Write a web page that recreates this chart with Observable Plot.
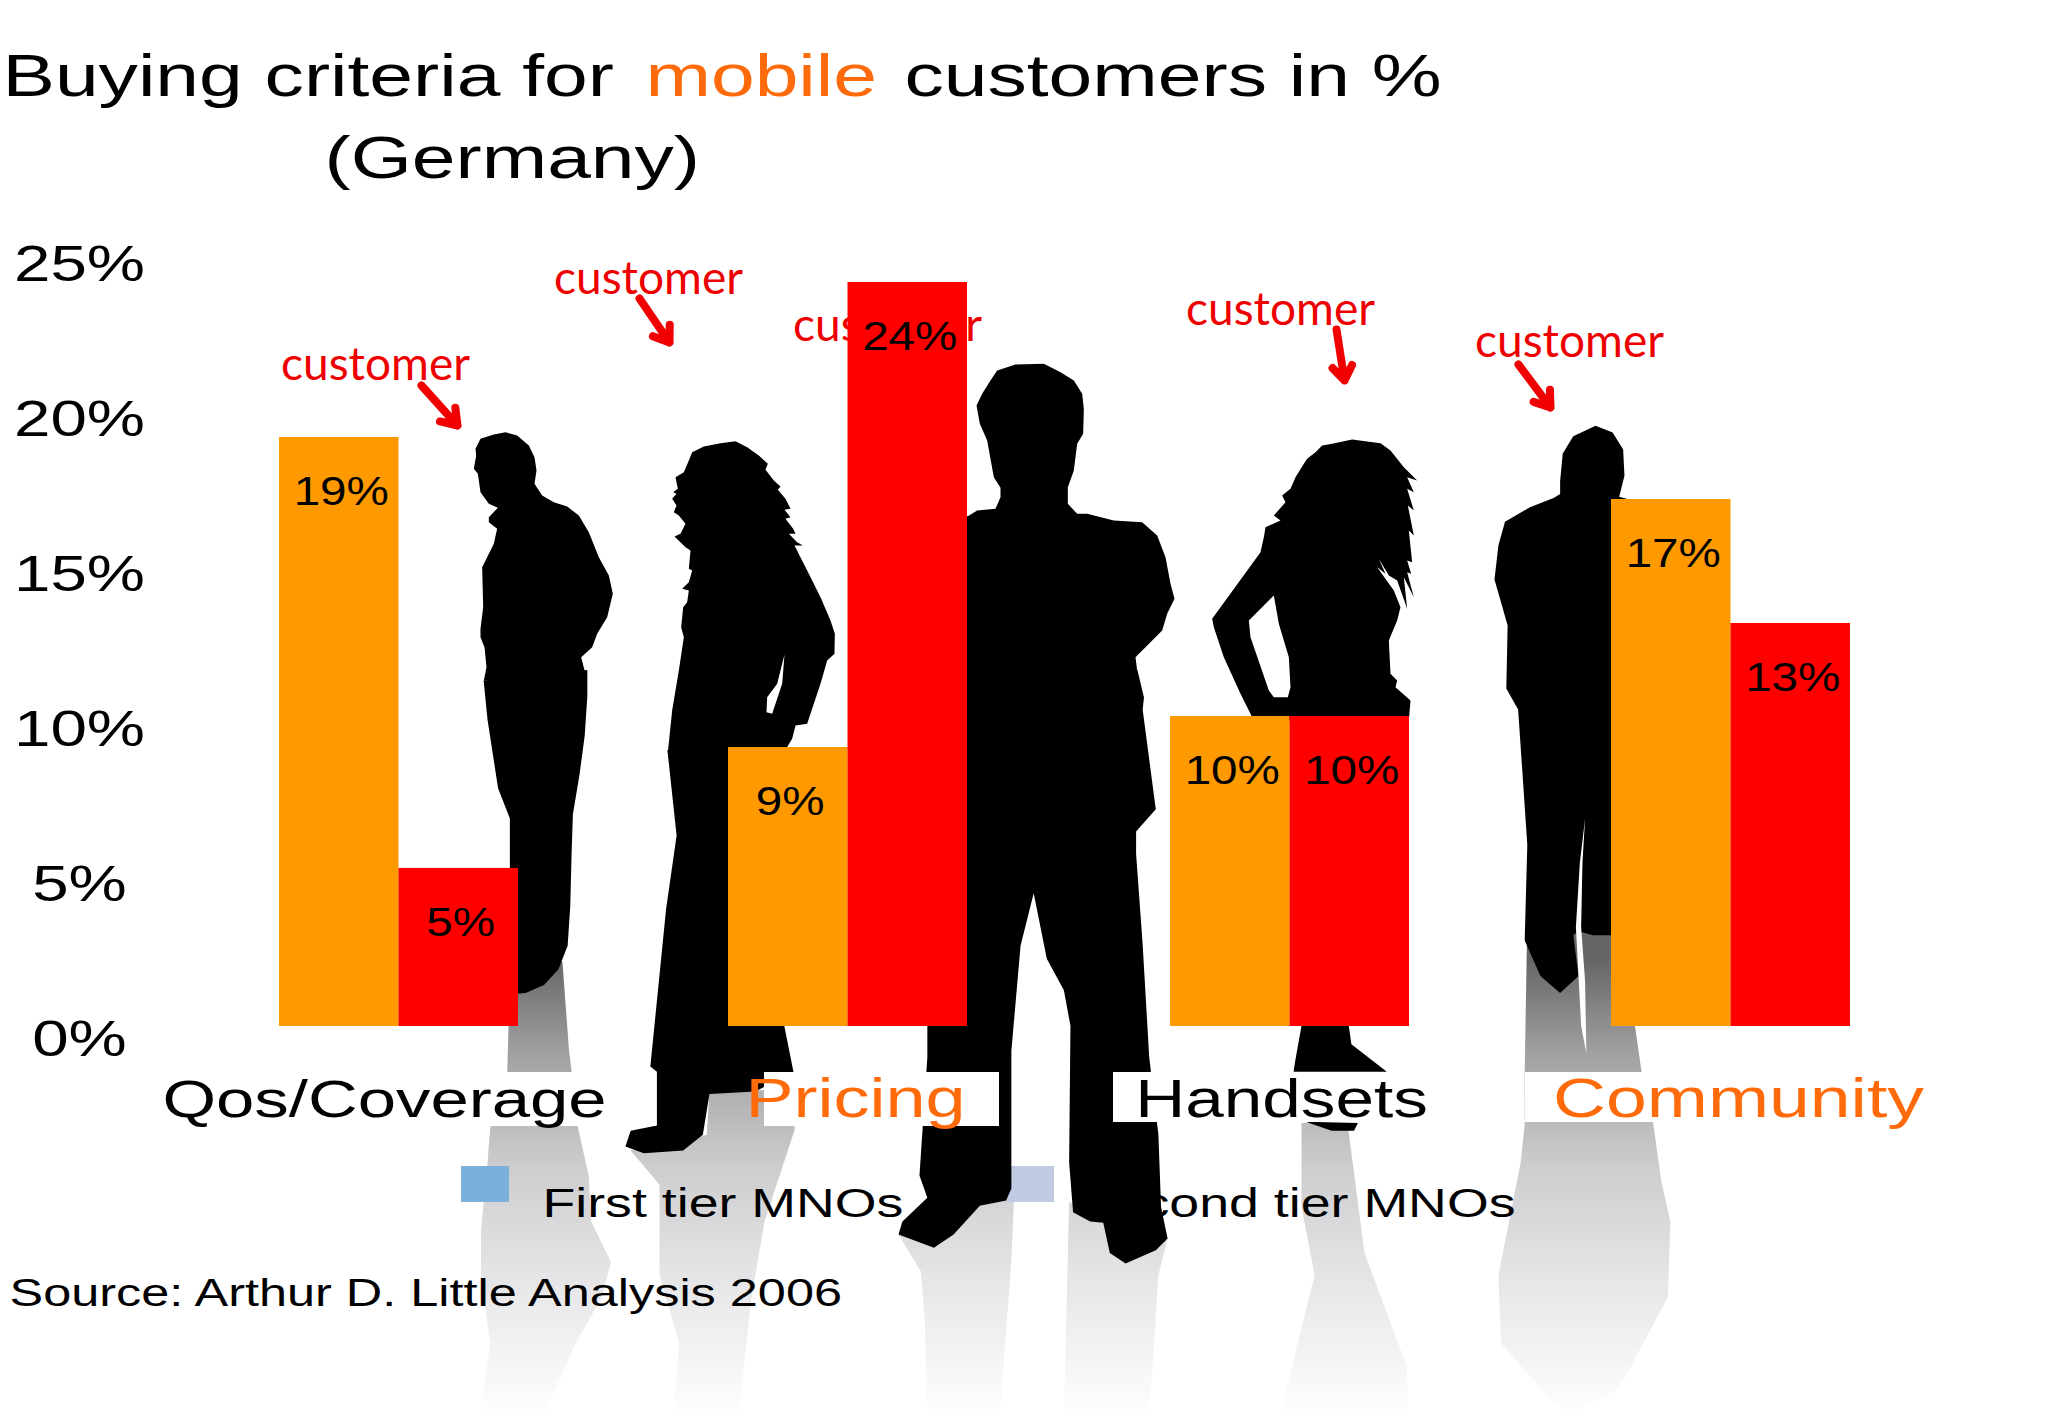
<!DOCTYPE html>
<html>
<head>
<meta charset="utf-8">
<script src="https://cdn.jsdelivr.net/npm/d3@7"></script>
<script src="https://cdn.jsdelivr.net/npm/@observablehq/plot@0.6"></script>
<style>html,body{margin:0;padding:0;background:#fff;overflow:hidden}svg{display:block}</style>
</head>
<body>
<div id="chart"></div>
<script>
// ---- data ----
const categories = ["Qos/Coverage", "Pricing", "Handsets", "Community"];
const firstTier = [19, 9, 10, 17];
const secondTier = [5.1, 24, 10, 13];
const yTicks = [0, 5, 10, 15, 20, 25];
const categoryColors = ["#000000", "#FF6A0A", "#000000", "#FF6A0A"];
const titleParts = [
  {text: "Buying criteria for", x: 2, y: 95, fill: "#000"},
  {text: "mobile", x: 645, y: 95, fill: "#FF6A0A"},
  {text: "customers in %", x: 904, y: 95, fill: "#000"},
  {text: "(Germany)", x: 324, y: 177, fill: "#000"}
];
const legendLabels = [
  {text: "First tier MNOs", x: 542, color: "#7AB0DC", sx: 461},
  {text: "Second tier MNOs", x: 1515, color: "#C0CAE2", sx: 1006}
];
const sourceText = "Source: Arthur D. Little Analysis 2006";
const calloutWord = "customer";
const callouts = [[375, 378], [648, 292], [887, 339], [1280, 323], [1569, 355]];
const arrows = [
  [421, 385, 457, 425], [639, 298, 669, 342], [1336, 329, 1344, 380], [1518, 364, 1550, 407]
];
const labelCenters = [384, 855, 1281, 1738];
const labelSizes = [52.6, 55, 52.9, 56];
const labelPatches = [
  [160, 656, 1072, 1126], [764, 999, 1072, 1126], [1113, 1440, 1072, 1122], [1525, 1935, 1072, 1122]
];

const S = 2048 / 1560;
const crop = (x0, y0, pts) => pts.map(([a, b]) => [(x0 + a / 3) / S, (y0 + b / 3) / S]);

const man1Top = crop(460, 420, [[45,85],[60,55],[100,42],[135,35],[170,45],[205,75],[222,110],[228,150],[222,190],[245,225],[280,245],[320,258],[355,285],[385,335],[415,410],[445,465],[457,520],[440,590],[410,640],[395,680],[362,710],[380,780],[70,780],[78,740],[72,680],[60,650],[60,625],[68,560],[65,440],[100,370],[110,325],[85,305],[85,290],[112,262],[85,250],[60,215],[52,160],[40,145],[47,105]]);
const man1Legs = [[447,510],[447,530],[445,560],[441,590],[436,620],[435,650],[434,690],[432,720],[425,738],[414,750],[400,756],[388,757],[388,664],[388,623],[379,600],[371,548],[368,518]];

const woman1Top = crop(660, 430, [[95,65],[130,48],[180,38],[225,32],[260,50],[295,75],[322,100],[315,118],[340,150],[360,168],[352,178],[375,205],[390,235],[372,238],[390,260],[375,265],[398,295],[405,310],[385,310],[410,335],[427,345],[402,345],[440,420],[480,500],[510,570],[523,610],[522,670],[500,690],[480,760],[440,880],[405,885],[395,925],[370,966],[22,966],[35,840],[55,720],[70,620],[62,590],[68,530],[80,515],[85,480],[65,475],[85,455],[95,420],[85,415],[90,360],[75,350],[42,318],[60,310],[75,280],[55,255],[40,245],[48,225],[35,205],[48,190],[38,185],[52,175],[45,140],[70,125],[85,90]]);
const woman1Gap = crop(660, 430, [[372,672],[350,760],[320,800],[318,845],[335,850],[365,760]]);
const woman1Legs = [[590,572],[640,575],[640,780],[597,781],[604,816],[575,831],[540,833],[535,864],[520,876],[490,878],[476,873],[480,861],[500,857],[500,816],[495,812],[507,692],[515,636],[508,571]];

const man2Top = crop(960, 350, [[48,165],[65,130],[90,90],[110,60],[165,42],[250,40],[300,65],[340,90],[365,130],[370,175],[368,250],[350,280],[340,360],[322,410],[322,460],[350,490],[380,490],[460,510],[545,515],[590,555],[615,620],[630,700],[642,745],[620,790],[605,840],[555,890],[525,920],[530,960],[0,960],[0,497],[22,497],[50,480],[105,475],[120,440],[120,412],[100,380],[80,270],[58,220]]);
const man2Legs = [[866,510],[871,531],[870,540],[880,616],[865,633],[865,650],[870,719],[875,805],[882,864],[884,919],[889,943],[880,952],[857,962],[845,954],[840,931],[830,930],[817,923],[814,885],[815,781],[810,754],[797,730],[787,680],[777,720],[770,800],[770,905],[766,914],[746,918],[726,940],[711,950],[684,940],[687,930],[706,912],[700,895],[706,805],[706,781],[700,781],[700,505]];

const woman2Top = crop(1200, 430, [[35,565],[180,365],[190,320],[195,290],[240,270],[220,255],[255,215],[245,195],[270,175],[285,140],[310,100],[320,85],[345,65],[365,45],[395,40],[455,27],[540,38],[570,60],[610,110],[650,150],[620,140],[640,185],[620,175],[640,240],[622,225],[640,315],[625,300],[635,395],[620,390],[632,430],[620,425],[640,500],[610,440],[620,535],[590,450],[565,435],[535,385],[555,430],[530,410],[580,480],[600,530],[590,570],[565,630],[570,730],[590,750],[585,770],[630,810],[625,870],[160,870],[120,790],[70,680],[40,590]]);
const woman2Gap = crop(1200, 430, [[220,495],[145,570],[150,620],[205,780],[220,800],[262,800],[270,770],[265,680],[235,580]]);
const woman2Feet = [[991,700],[1027,700],[1027,781],[1029,795],[1056,816],[985,816],[986,809],[991,781]];
const woman2Foot = [[994,854],[1034,855],[1031,861],[1014,861]];

const man3 = [[1188,366],[1190,345],[1198,332],[1215,324],[1228,329],[1236,342],[1237,362],[1233,378],[1240,380],[1240,712],[1213,712],[1202,709],[1198,712],[1202,743],[1188,756],[1173,743],[1161,716],[1163,643],[1156,540],[1147,524],[1148,476],[1138,441],[1141,415],[1146,397],[1165,386],[1183,379],[1188,376]];
const slit = [[1207,623],[1203,657],[1200,706],[1202,743],[1204,781],[1208,802],[1207,747],[1204,706],[1205,657]];

const shadow1 = [[428,732],[433,799],[440,859],[448,895],[450,930],[465,961],[458,988],[438,1023],[413,1080],[365,1080],[373,1023],[366,971],[366,937],[371,885],[373,859],[386,816],[388,747]];
const shadow2 = [[480,876],[502,902],[502,971],[517,1023],[512,1080],[562,1080],[572,988],[582,930],[605,860],[604,830],[540,830],[538,864]];
const shadow3 = [[684,940],[701,968],[704,1005],[706,1080],[761,1080],[770,960],[772,912],[746,918],[726,940]];
const shadow3b = [[814,915],[810,1080],[875,1080],[882,971],[889,943],[857,962],[840,931]];
const shadow4 = [[991,855],[1026,855],[1039,954],[1071,1040],[1073,1080],[974,1080],[1001,971],[991,919]];
const shadow5 = [[1163,700],[1161,816],[1161,856],[1158,885],[1141,971],[1143,1023],[1193,1080],[1233,1057],[1270,988],[1272,930],[1265,899],[1259,856],[1250,816],[1245,781],[1228,700]];

// ---- derived rows ----
const barSpan = 0.27;
const bars = categories.flatMap((c, i) => [
  {c, i, tier: 0, value: firstTier[i], fill: "#FF9900"},
  {c, i, tier: 1, value: secondTier[i], fill: "#FF0000"}
]);
const outline = list => list.flatMap((pts, k) => pts.map(p => ({k, x: p[0] * S, y: p[1] * S})));
const px = f => ({value: f, scale: null});
const shape = (list, fill) => Plot.line(outline(list), {
  x: px(d => d.x), y: px(d => d.y), z: "k", fill, stroke: "none", curve: "linear"
});
const txt = (rows, o) => Plot.text(rows, {fontFamily: "Liberation Sans", textAnchor: "start", lineAnchor: "bottom", ...o});

const defs = () => {
  const s = d3.create("svg:defs");
  const g = s.append("linearGradient").attr("id", "fade")
    .attr("gradientUnits", "userSpaceOnUse").attr("x1", 0).attr("x2", 0).attr("y1", 960).attr("y2", 1418);
  [[0, "#666668"], [0.2, "#a0a0a2"], [0.45, "#cdcdcf"], [0.7, "#e6e6e8"], [1, "#ffffff"]]
    .forEach(([o, c]) => g.append("stop").attr("offset", o).attr("stop-color", c));
  return s.node();
};

const chart = Plot.plot({
  width: 2048,
  height: 1418,
  margin: 0,
  style: {background: "#fff", overflow: "hidden"},
  x: {
    type: "linear",
    domain: [0, 2 * barSpan, 1, 1 + 2 * barSpan, 2, 2 + 2 * barSpan, 3, 3 + 2 * barSpan],
    range: [279, 518, 728, 967, 1170, 1409, 1611, 1850],
    axis: null
  },
  y: {type: "linear", domain: [0, 25], range: [1026, 251]},
  marks: [
    defs,
    shape([shadow1, shadow2, shadow3, shadow3b, shadow4, shadow5], "url(#fade)"),
    // callouts sit behind the bars
    Plot.text(callouts, {
      x: px(d => d[0]), y: px(d => d[1]), text: () => calloutWord, fontFamily: "Lato",
      fontSize: 46, fill: "#EE0000", textAnchor: "middle", lineAnchor: "bottom", dy: 1
    }),
    Plot.arrow(arrows, {
      x1: px(d => d[0]), y1: px(d => d[1]), x2: px(d => d[2]), y2: px(d => d[3]),
      stroke: "#F00000", strokeWidth: 8, headLength: 13, headAngle: 70
    }),
    // legend
    Plot.rect(legendLabels, {
      x1: px(d => d.sx), x2: px(d => d.sx + 48), y1: px(() => 1166), y2: px(() => 1202), fill: "color"
    }),
    txt(legendLabels.slice(0, 1), {
      x: px(d => d.x), y: px(() => 1216), text: "text", fontSize: 41, fill: "#000"
    }),
    txt(legendLabels.slice(1), {
      x: px(d => d.x), y: px(() => 1216), text: "text", fontSize: 41, fill: "#000", textAnchor: "end"
    }),
    txt([sourceText], {
      x: px(() => 9), y: px(() => 1305), text: d => d, fontSize: 38.5, fill: "#000"
    }),
    // people
    shape([man1Top, man1Legs, woman1Top, woman1Legs, man2Top, man2Legs, woman2Top, woman2Feet, woman2Foot, man3], "#000"),
    shape([woman1Gap, woman2Gap, slit], "#fff"),
    // bars
    Plot.rectY(bars, {
      x1: d => d.i + d.tier * barSpan,
      x2: d => d.i + (d.tier + 1) * barSpan,
      y1: 0, y2: "value", fill: "fill"
    }),
    Plot.text(bars, {
      x: d => d.i + (d.tier + 0.5) * barSpan, y: "value", text: d => Math.round(d.value) + "%",
      dx: 2, dy: 55, fontFamily: "Liberation Sans", fontSize: 40, fill: "#000"
    }),
    // y axis
    Plot.axisY({
      ticks: yTicks, tickSize: 0, tickFormat: d => d + "%", label: null,
      textAnchor: "middle", dx: 88, dy: 13, fontFamily: "Liberation Sans", fontSize: 50, fill: "#000"
    }),
    // category labels
    Plot.rect(labelPatches, {
      x1: px(d => d[0]), x2: px(d => d[1]), y1: px(d => d[2]), y2: px(d => d[3]), fill: "#fff"
    }),
    ...categories.map((c, i) => Plot.text([c], {
      x: px(() => labelCenters[i]), y: px(() => 1116), text: d => d,
      fontFamily: "Liberation Sans", fontSize: labelSizes[i], lineAnchor: "bottom", textAnchor: "middle",
      fill: categoryColors[i]
    })),
    // title
    txt(titleParts, {x: px(d => d.x), y: px(d => d.y), text: "text", fontSize: 60, fill: "fill"})
  ]
});

// The slide was widened when it was photographed: widen the type with it.
chart.querySelectorAll("text").forEach(t => {
  const k = t.textContent === calloutWord ? 1.0 : t.closest('[font-size="40"]') ? 1.19 : 1.31;
  t.setAttribute("transform", (t.getAttribute("transform") || "") + ` scale(${k},1)`);
});
document.getElementById("chart").append(chart);
</script>
</body>
</html>
